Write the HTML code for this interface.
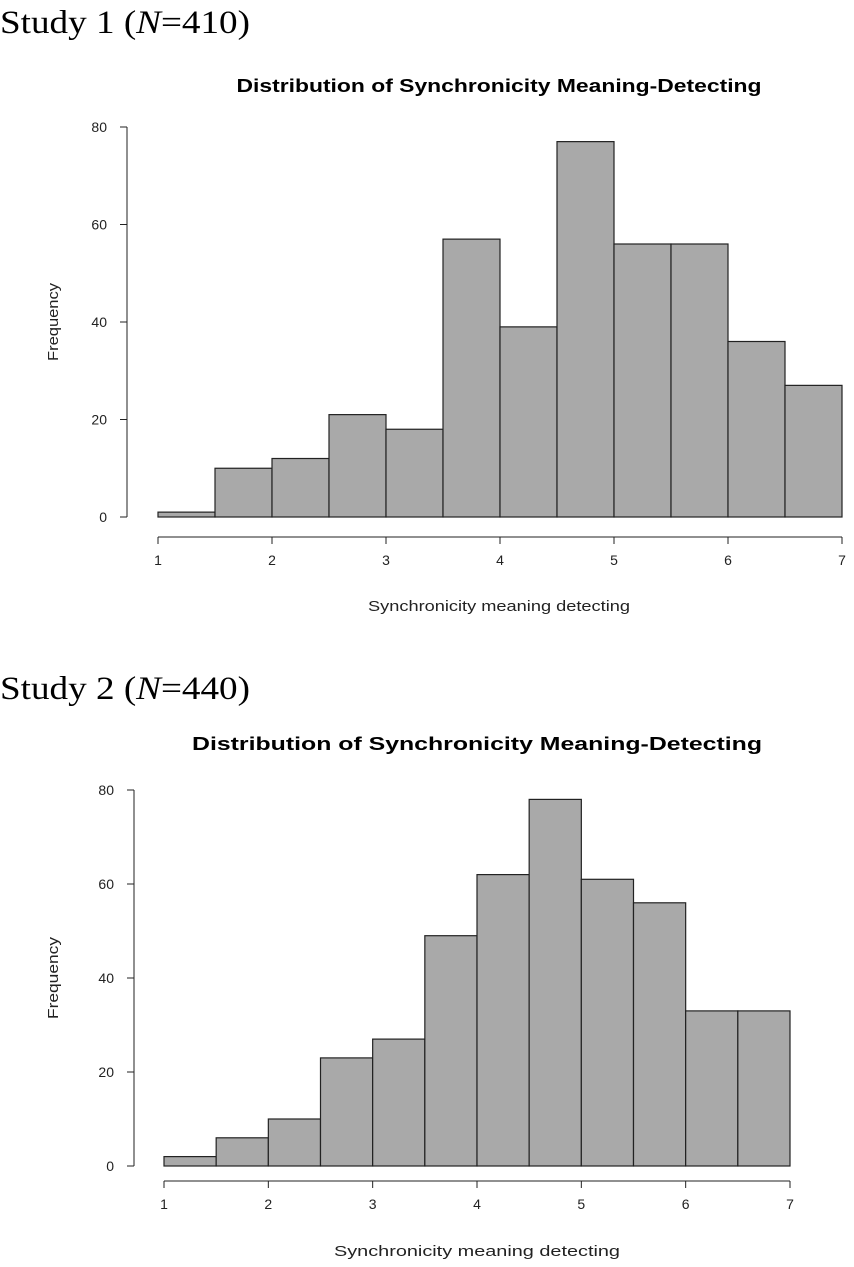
<!DOCTYPE html>
<html><head><meta charset="utf-8"><style>
body{margin:0;background:#fff;width:854px;height:1267px;overflow:hidden}
svg{display:block}
.st{font-family:"Liberation Serif",serif;font-size:33px;fill:#000}
.tt{font-family:"Liberation Sans",sans-serif;font-size:18px;font-weight:bold;fill:#000}
.tk{font-family:"Liberation Sans",sans-serif;font-size:14px;fill:#222}
.lb{font-family:"Liberation Sans",sans-serif;font-size:15px;fill:#222}
</style></head><body>
<svg id="s" width="854" height="1267">
<text class="st" x="0" y="33" textLength="250" lengthAdjust="spacingAndGlyphs">Study 1 (<tspan font-style="italic">N</tspan>=410)</text>
<text class="st" x="0" y="699" textLength="250" lengthAdjust="spacingAndGlyphs">Study 2 (<tspan font-style="italic">N</tspan>=440)</text>
</svg>
<script>
const bins = [1,1.5,2,2.5,3,3.5,4,4.5,5,5.5,6,6.5,7];
const study1Counts = [1,10,12,21,18,57,39,77,56,56,36,27];
const study2Counts = [2,6,10,23,27,49,62,78,61,56,33,33];
const xTicks = [1,2,3,4,5,6,7];
const yTicks = [0,20,40,60,80];
const NS="http://www.w3.org/2000/svg";
const svg=document.getElementById('s');
function mk(tag,attrs,parent){const e=document.createElementNS(NS,tag);for(const k in attrs)e.setAttribute(k,attrs[k]);(parent||svg).appendChild(e);return e;}
function chart(cfg,counts,id){
  const g=mk('g',{});
  
  
  const xs=v=>cfg.x0+(v-1)*(cfg.x1-cfg.x0)/6;
  const ys=v=>cfg.y0-v*(cfg.y0-cfg.y80)/80;
  const t=mk('text',{class:'tt',x:(cfg.tcx),y:cfg.ty,'text-anchor':'middle',textLength:cfg.tl,lengthAdjust:'spacingAndGlyphs'},g);
  t.textContent='Distribution of Synchronicity Meaning-Detecting';
  
  
  counts.forEach((c,i)=>{
    const r=mk('rect',{x:xs(bins[i]),y:ys(c),width:xs(bins[i+1])-xs(bins[i]),height:ys(0)-ys(c),fill:'#a9a9a9',stroke:'#222','stroke-width':1.2},g);
    
    
  });
  const xa=mk('g',{},g);
  
  
  mk('line',{x1:xs(1),x2:xs(7),y1:cfg.xay,y2:cfg.xay,stroke:'#222'},xa);
  xTicks.forEach(v=>{
    mk('line',{x1:xs(v),x2:xs(v),y1:cfg.xay,y2:cfg.xay+7,stroke:'#222'},xa);
    const l=mk('text',{class:'tk',x:xs(v),y:cfg.xay+28,'text-anchor':'middle'},xa);l.textContent=v;
  });
  const xl=mk('text',{class:'lb',x:cfg.xlx,y:cfg.xly,'text-anchor':'middle',textLength:cfg.xll,lengthAdjust:'spacingAndGlyphs'},g);
  xl.textContent='Synchronicity meaning detecting';
  
  
  const ya=mk('g',{},g);
  
  
  mk('line',{x1:cfg.yax,x2:cfg.yax,y1:ys(0),y2:ys(80),stroke:'#222'},ya);
  yTicks.forEach(v=>{
    mk('line',{x1:cfg.yax-7,x2:cfg.yax,y1:ys(v),y2:ys(v),stroke:'#222'},ya);
    const l=mk('text',{class:'tk',x:cfg.yax-20,y:ys(v)+5,'text-anchor':'end'},ya);l.textContent=v;
  });
  const yl=mk('text',{class:'lb',x:0,y:0,'text-anchor':'middle',textLength:cfg.yll,lengthAdjust:'spacingAndGlyphs',transform:`translate(${cfg.ylx},${(ys(0)+ys(80))/2}) rotate(-90)`},g);
  yl.textContent='Frequency';
  
  
}
chart({x0:158,x1:842,y0:517,y80:127,xay:537,yax:127,tcx:499,ty:92,tl:525,xlx:499,xly:611,xll:262,ylx:58,yll:78},study1Counts,'study1');
chart({x0:164,x1:790,y0:1166,y80:790,xay:1181,yax:134,tcx:477,ty:750,tl:570,xlx:477,xly:1256,xll:286,ylx:58,yll:82},study2Counts,'study2');
</script>
</body></html>
